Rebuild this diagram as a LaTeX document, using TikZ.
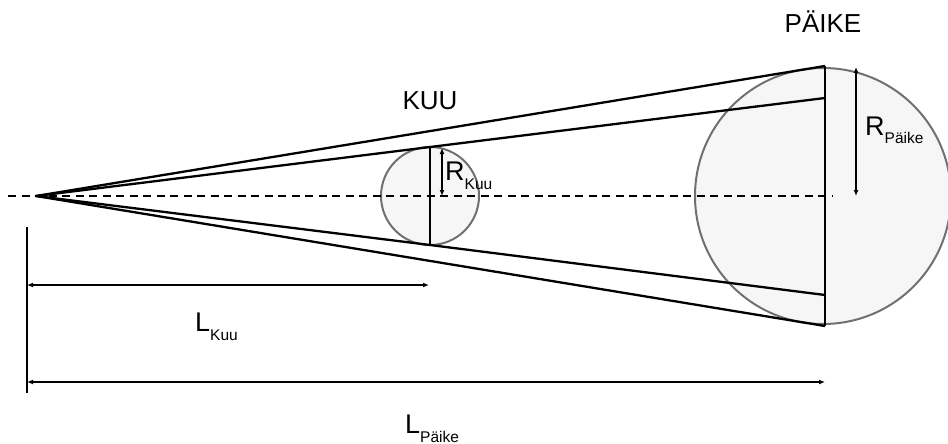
\documentclass[tikz,border=0pt]{standalone}
\usepackage{fontspec}
\setmainfont{Liberation Sans}
\usetikzlibrary{arrows.meta}
\definecolor{bodyfill}{HTML}{F6F6F6}
\definecolor{bodyline}{HTML}{707070}
\newcommand{\biglab}[2]{{\fontsize{27}{27}\selectfont #1}\raisebox{-9pt}{\fontsize{15.5}{15.5}\selectfont #2}}
\begin{document}
\begin{tikzpicture}[x=1pt,y=-1pt,
  body/.style={circle,draw=bodyline,fill=bodyfill,line width=2pt,inner sep=0pt,outer sep=0pt},
  ray/.style={line width=2.3pt,line join=round},
  chord/.style={line width=2.3pt},
  axis/.style={line width=2.3pt,dash pattern=on 8pt off 5.5pt},
  dim/.style={line width=1.6pt,{Latex[length=6pt,width=5pt]}-{Latex[length=6pt,width=5pt]}},
  bar/.style={line width=2.3pt},
  title/.style={font=\fontsize{26}{26}\selectfont,inner sep=0pt,anchor=base}]
\useasboundingbox (0,0) rectangle (948,444);
% bodies
\node[body,minimum size=98pt] (moon) at (430,196) {};
\node[body,minimum size=256pt] (sun) at (823,196) {};
% key points
\coordinate (V) at (36,196);
\coordinate (MT) at (430,147);
\coordinate (MB) at (430,245);
\coordinate (ST) at (825,66);
\coordinate (SB) at (825,326);
\coordinate (SIT) at (825,98);
\coordinate (SIB) at (825,295);
\coordinate (AL) at (8,196);
\coordinate (AR) at (832,196);
% axis
\draw[axis] (AL) -- (AR);
% chords
\draw[chord] (MT) -- (MB);
\draw[chord] (ST) -- (SB);
% rays
\draw[ray] (ST) -- (V) -- (SB);
\draw[ray] (SIT) -- (MT) -- (V) -- (MB) -- (SIB);
% radius arrows
\coordinate (RK1) at (442,148);
\coordinate (RK2) at (442,196);
\draw[dim] (RK1) -- (RK2);
\coordinate (RP1) at (856,67);
\coordinate (RP2) at (856,196);
\draw[dim] (RP1) -- (RP2);
% distance arrows
\coordinate (B1) at (27,227);
\coordinate (B2) at (27,393);
\draw[bar] (B1) -- (B2);
\coordinate (LK1) at (27,285);
\coordinate (LK2) at (429,285);
\draw[dim] (LK1) -- (LK2);
\coordinate (LP1) at (27,382);
\coordinate (LP2) at (825,382);
\draw[dim] (LP1) -- (LP2);
% labels
\node[title] (kuu) at (430,110) {KUU};
\node[title] (paike) at (823,33) {PÄIKE};
\node[inner sep=0pt,anchor=base west] (rk) at (445,180) {\biglab{R}{Kuu}};
\node[inner sep=0pt,anchor=base west] (rp) at (865,135) {\biglab{R}{Päike}};
\node[inner sep=0pt,anchor=base west] (lk) at (195,331) {\biglab{L}{Kuu}};
\node[inner sep=0pt,anchor=base west] (lp) at (405,433) {\biglab{L}{Päike}};
\end{tikzpicture}
\end{document}
